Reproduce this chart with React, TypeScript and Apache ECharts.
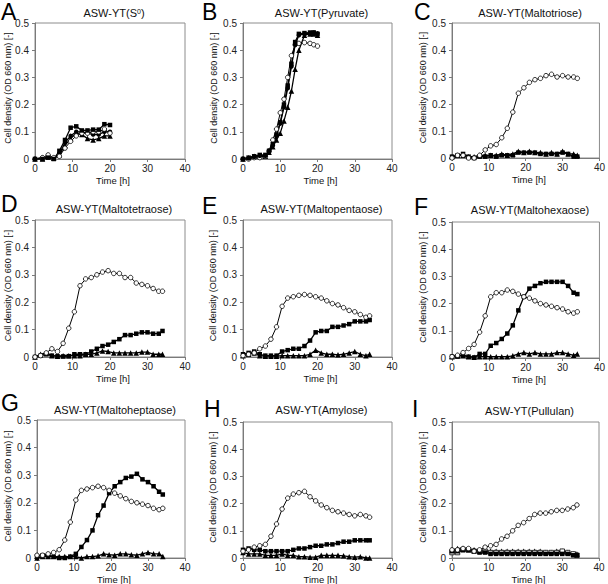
import React, { useEffect, useRef } from "react";
import * as echarts from "echarts";

// ---------- DATA ----------
const TIME_A = [0, 2, 3.5, 5, 6.5, 8, 9.5, 11, 12.5, 14, 15.5, 17, 18.5, 20];
const TIME_B = [0, 1.5, 3, 4.5, 6, 7, 8, 9, 10, 11, 12, 13, 14, 15, 16.5, 18, 19, 20];
const TIME = [0, 1.5, 3, 4.5, 6, 7.5, 9, 10.5, 12, 13.5, 15, 16.5, 18, 19.5, 21, 22.5, 24, 25.5, 27, 28.5, 30, 31.5, 33, 34];

const A_SQ = [0, 0, 0.005, 0, 0.03, 0.07, 0.115, 0.12, 0.105, 0.105, 0.108, 0.108, 0.128, 0.125];
const A_FC = [0, 0.005, 0.008, 0.003, 0.02, 0.06, 0.085, 0.1, 0.1, 0.095, 0.09, 0.09, 0.1, 0.1];
const A_OC = [0, 0.005, 0.015, 0.005, 0.01, 0.04, 0.065, 0.085, 0.095, 0.095, 0.1, 0.1, 0.11, 0.095];
const A_TR = [0, 0, 0.008, 0.003, 0.015, 0.05, 0.075, 0.095, 0.09, 0.075, 0.07, 0.075, 0.085, 0.085];

const B_SQ = [0, 0.005, 0.01, 0.015, 0.015, 0.03, 0.055, 0.09, 0.135, 0.2, 0.27, 0.35, 0.43, 0.46, 0.463, 0.465, 0.465, 0.46];
const B_FC = [0, 0.003, 0.008, 0.012, 0.012, 0.028, 0.05, 0.085, 0.13, 0.19, 0.26, 0.34, 0.42, 0.455, 0.46, 0.462, 0.465, 0.462];
const B_OC = [0, 0, 0.005, 0.005, 0.01, 0.03, 0.07, 0.11, 0.17, 0.22, 0.3, 0.38, 0.42, 0.425, 0.428, 0.425, 0.42, 0.415];
const B_TR = [0, 0.005, 0.01, 0.01, 0.01, 0.025, 0.045, 0.07, 0.095, 0.14, 0.19, 0.25, 0.33, 0.4, 0.455, 0.46, 0.46, 0.455];

const C_OC = [0, 0.01, 0.01, 0, 0, 0.01, 0.03, 0.045, 0.05, 0.075, 0.11, 0.17, 0.24, 0.26, 0.28, 0.29, 0.295, 0.305, 0.31, 0.3, 0.305, 0.3, 0.3, 0.295];
const C_SQ = [0.005, 0.01, 0.015, 0.005, 0, 0.005, 0.005, 0.01, 0.005, 0.01, 0.01, 0.01, 0.02, 0.02, 0.02, 0.02, 0.015, 0.015, 0.015, 0.015, 0.02, 0.015, 0.005, 0.005];
const C_TR = [0.005, 0.01, 0.01, 0.005, 0.005, 0.01, 0.01, 0.01, 0.01, 0.015, 0.01, 0.015, 0.025, 0.02, 0.025, 0.02, 0.02, 0.015, 0.02, 0.015, 0.025, 0.015, 0.015, 0.01];

const D_OC = [0, 0.005, 0.015, 0.03, 0.02, 0.05, 0.105, 0.165, 0.26, 0.285, 0.29, 0.3, 0.31, 0.315, 0.305, 0.305, 0.29, 0.29, 0.27, 0.265, 0.26, 0.25, 0.24, 0.24];
const D_SQ = [0, 0.005, 0.01, 0.005, 0.003, 0.002, 0.003, 0.01, 0.01, 0.01, 0.02, 0.03, 0.04, 0.045, 0.055, 0.065, 0.08, 0.08, 0.085, 0.09, 0.09, 0.085, 0.085, 0.095];
const D_TR = [0, 0.01, 0.015, 0.005, 0.003, 0.005, 0.005, 0.005, 0.005, 0.01, 0.01, 0.015, 0.022, 0.02, 0.015, 0.015, 0.015, 0.015, 0.015, 0.018, 0.018, 0.01, 0.01, 0.01];

const E_OC = [0.005, 0.01, 0.015, 0.03, 0.04, 0.065, 0.11, 0.185, 0.215, 0.22, 0.225, 0.228, 0.225, 0.22, 0.215, 0.205, 0.195, 0.19, 0.18, 0.17, 0.165, 0.155, 0.145, 0.15];
const E_SQ = [0.01, 0.015, 0.02, 0.01, 0.005, 0.005, 0.005, 0.02, 0.025, 0.03, 0.03, 0.04, 0.06, 0.09, 0.095, 0.095, 0.11, 0.11, 0.115, 0.12, 0.13, 0.13, 0.13, 0.135];
const E_TR = [0.005, 0.01, 0.015, 0.005, 0.003, 0.003, 0.003, 0.005, 0.005, 0.005, 0.005, 0.005, 0.01, 0.025, 0.015, 0.01, 0.01, 0.008, 0.01, 0.015, 0.02, 0.01, 0.005, 0.01];

const F_OC = [0.005, 0.01, 0.02, 0.035, 0.05, 0.095, 0.155, 0.225, 0.24, 0.24, 0.25, 0.245, 0.235, 0.225, 0.22, 0.21, 0.2, 0.195, 0.19, 0.185, 0.18, 0.17, 0.165, 0.17];
const F_SQ = [0.005, 0.005, 0.01, 0.005, 0.002, 0.015, 0.015, 0.045, 0.055, 0.07, 0.09, 0.12, 0.175, 0.225, 0.255, 0.265, 0.275, 0.28, 0.28, 0.28, 0.28, 0.265, 0.24, 0.235];
const F_TR = [0.005, 0.01, 0.01, 0.005, 0.003, 0.005, 0.005, 0.005, 0.005, 0.005, 0.005, 0.008, 0.015, 0.02, 0.015, 0.02, 0.015, 0.015, 0.015, 0.02, 0.02, 0.015, 0.01, 0.015];

const G_OC = [0.01, 0.01, 0.015, 0.02, 0.03, 0.065, 0.13, 0.21, 0.245, 0.25, 0.255, 0.26, 0.255, 0.245, 0.235, 0.225, 0.215, 0.205, 0.2, 0.195, 0.19, 0.18, 0.175, 0.18];
const G_SQ = [0.005, 0.01, 0.01, 0.005, 0, 0, 0.005, 0.015, 0.04, 0.065, 0.1, 0.155, 0.19, 0.235, 0.26, 0.275, 0.29, 0.295, 0.305, 0.285, 0.275, 0.26, 0.24, 0.23];
const G_TR = [0, 0.005, 0.005, 0.005, 0.005, 0.005, 0.005, 0.005, 0, 0.005, 0.005, 0.008, 0.015, 0.012, 0.01, 0.015, 0.015, 0.012, 0.01, 0.015, 0.02, 0.015, 0.015, 0.005];

const H_OC = [0.025, 0.03, 0.04, 0.045, 0.05, 0.08, 0.125, 0.18, 0.22, 0.235, 0.24, 0.245, 0.225, 0.21, 0.195, 0.185, 0.175, 0.17, 0.165, 0.16, 0.155, 0.16, 0.155, 0.15];
const H_SQ = [0.03, 0.035, 0.03, 0.03, 0.025, 0.025, 0.025, 0.025, 0.025, 0.03, 0.035, 0.035, 0.04, 0.045, 0.045, 0.05, 0.05, 0.055, 0.06, 0.06, 0.065, 0.065, 0.065, 0.065];
const H_TR = [0.02, 0.015, 0.015, 0.015, 0.01, 0.01, 0.01, 0.015, 0.01, 0.01, 0.005, 0.005, 0.003, 0.003, 0.01, 0.01, 0.01, 0.01, 0.008, 0.005, 0.003, 0.005, 0, 0];

const I_OC = [0.03, 0.03, 0.035, 0.035, 0.025, 0.03, 0.04, 0.045, 0.05, 0.07, 0.08, 0.1, 0.12, 0.13, 0.145, 0.16, 0.165, 0.165, 0.17, 0.175, 0.175, 0.18, 0.185, 0.195];
const I_SQ = [0.025, 0.025, 0.03, 0.03, 0.025, 0.02, 0.02, 0.015, 0.015, 0.015, 0.015, 0.015, 0.015, 0.015, 0.015, 0.015, 0.015, 0.015, 0.015, 0.015, 0.015, 0.015, 0.01, 0.01];
const I_OS = [0.02, 0.02, 0.03, 0.03, 0.025, 0.025, 0.025, 0.02, 0.02, 0.02, 0.02, 0.02, 0.02, 0.02, 0.02, 0.02, 0.02, 0.02, 0.02, 0.02, 0.025, 0.02, 0.015, 0.01];
const I_TR = [0.03, 0.035, 0.035, 0.03, 0.03, 0.025, 0.025, 0.025, 0.025, 0.025, 0.025, 0.025, 0.025, 0.025, 0.025, 0.025, 0.025, 0.02, 0.02, 0.025, 0.025, 0.02, 0.015, 0.015];

const PANEL_LETTERS = ["A", "B", "C", "D", "E", "F", "G", "H", "I"];
const PANEL_TITLES = [
  "ASW-YT(S{s|0})",
  "ASW-YT(Pyruvate)",
  "ASW-YT(Maltotriose)",
  "ASW-YT(Maltotetraose)",
  "ASW-YT(Maltopentaose)",
  "ASW-YT(Maltohexaose)",
  "ASW-YT(Maltoheptaose)",
  "ASW-YT(Amylose)",
  "ASW-YT(Pullulan)",
];
const X_TICKS = [0, 10, 20, 30, 40];
const Y_TICKS = [0, 0.1, 0.2, 0.3, 0.4, 0.5];
const X_NAME = "Time [h]";
const Y_NAME = "Cell density (OD 660 nm) [-]";

type Kind = "oc" | "sq" | "tr" | "fc" | "os";
const PANEL_SERIES: { t: number[]; kinds: [Kind, number[]][] }[] = [
  { t: TIME_A, kinds: [["tr", A_TR], ["fc", A_FC], ["oc", A_OC], ["sq", A_SQ]] },
  { t: TIME_B, kinds: [["tr", B_TR], ["oc", B_OC], ["fc", B_FC], ["sq", B_SQ]] },
  { t: TIME, kinds: [["tr", C_TR], ["sq", C_SQ], ["oc", C_OC]] },
  { t: TIME, kinds: [["tr", D_TR], ["sq", D_SQ], ["oc", D_OC]] },
  { t: TIME, kinds: [["tr", E_TR], ["sq", E_SQ], ["oc", E_OC]] },
  { t: TIME, kinds: [["tr", F_TR], ["sq", F_SQ], ["oc", F_OC]] },
  { t: TIME, kinds: [["tr", G_TR], ["sq", G_SQ], ["oc", G_OC]] },
  { t: TIME, kinds: [["tr", H_TR], ["sq", H_SQ], ["oc", H_OC]] },
  { t: TIME, kinds: [["tr", I_TR], ["os", I_OS], ["sq", I_SQ], ["oc", I_OC]] },
];

// ---------- LAYOUT ----------
const GRIDS = [
  { left: 35, top: 23, width: 150, height: 136 },
  { left: 243, top: 23, width: 149, height: 136 },
  { left: 452, top: 23, width: 148, height: 135 },
  { left: 35, top: 220, width: 150, height: 137 },
  { left: 243, top: 220, width: 149, height: 137 },
  { left: 452, top: 222, width: 148, height: 136 },
  { left: 37, top: 420, width: 148, height: 138 },
  { left: 243, top: 422, width: 149, height: 136 },
  { left: 452, top: 422, width: 147, height: 136 },
];
const LETTER_POS = [
  [1, 12], [202, 12], [414, 12],
  [1, 204], [202, 206], [414, 207],
  [1, 403], [204, 409], [412, 409],
];
const TITLE_Y = [13, 13, 13, 209, 209, 210, 410, 410, 411];
const YNAME_X = [8, 214, 423, 8, 213, 423, 8, 213, 423];

const FONT = "'Liberation Sans', Arial, sans-serif";

function styleFor(kind: Kind) {
  switch (kind) {
    case "oc":
      return { symbol: "circle", symbolSize: 4.5, itemStyle: { color: "#fff", borderColor: "#000", borderWidth: 0.8 } };
    case "fc":
      return { symbol: "circle", symbolSize: 4.5, itemStyle: { color: "#000", borderColor: "#000", borderWidth: 0 } };
    case "sq":
      return { symbol: "rect", symbolSize: 4.5, itemStyle: { color: "#000", borderColor: "#000", borderWidth: 0 } };
    case "os":
      return { symbol: "rect", symbolSize: 4.5, itemStyle: { color: "#fff", borderColor: "#000", borderWidth: 0.8 } };
    case "tr":
    default:
      return { symbol: "triangle", symbolSize: 5.5, itemStyle: { color: "#000", borderColor: "#000", borderWidth: 0 } };
  }
}

function buildOption() {
  const grid: any[] = [];
  const xAxis: any[] = [];
  const yAxis: any[] = [];
  const series: any[] = [];
  const graphic: any[] = [];

  GRIDS.forEach((g, i) => {
    grid.push({ ...g, show: true, borderColor: "#8c8c8c", borderWidth: 1, backgroundColor: "transparent" });
    xAxis.push({
      type: "value",
      gridIndex: i,
      min: X_TICKS[0],
      max: X_TICKS[X_TICKS.length - 1],
      interval: X_TICKS[1] - X_TICKS[0],
      axisLine: { show: true, lineStyle: { color: "#7a7a7a", width: 1 } },
      axisTick: { show: true, length: 3, inside: false, lineStyle: { color: "#7a7a7a" } },
      axisLabel: { fontSize: 10, color: "#222", fontFamily: FONT, margin: 4 },
      splitLine: { show: false },
    });
    yAxis.push({
      type: "value",
      gridIndex: i,
      min: Y_TICKS[0],
      max: Y_TICKS[Y_TICKS.length - 1],
      interval: Y_TICKS[1] - Y_TICKS[0],
      axisLine: { show: true, lineStyle: { color: "#7a7a7a", width: 1 } },
      axisTick: { show: true, length: 3, inside: false, lineStyle: { color: "#7a7a7a" } },
      axisLabel: {
        fontSize: 10,
        color: "#222",
        fontFamily: FONT,
        margin: 6,
        formatter: (v: number) => (v === 0 ? "0" : String(Math.round(v * 10) / 10)),
      },
      splitLine: { show: false },
    });

    const p = PANEL_SERIES[i];
    p.kinds.forEach(([kind, vals]) => {
      series.push({
        type: "line",
        xAxisIndex: i,
        yAxisIndex: i,
        data: vals.map((v, k) => [p.t[k], v]),
        lineStyle: { color: "#000", width: kind === "oc" ? 1 : 1.3 },
        ...styleFor(kind),
        showSymbol: true,
        silent: true,
      });
    });

    graphic.push({
      type: "text",
      x: LETTER_POS[i][0],
      y: LETTER_POS[i][1],
      style: {
        text: PANEL_LETTERS[i],
        fontSize: 23,
        fontWeight: "normal",
        fontFamily: FONT,
        fill: "#000",
        align: "left",
        verticalAlign: "middle",
      },
    });
    graphic.push({
      type: "text",
      x: g.left + g.width / 2 + 4,
      y: TITLE_Y[i],
      style: {
        text: PANEL_TITLES[i],
        fontSize: 11,
        fontWeight: "normal",
        fontFamily: FONT,
        fill: "#111",
        align: "center",
        verticalAlign: "middle",
        rich: { s: { fontSize: 7, fontWeight: "normal", fontFamily: FONT, verticalAlign: "top", fill: "#111" } },
      },
    });
    graphic.push({
      type: "text",
      x: g.left + g.width / 2 + 3,
      y: g.top + g.height + 21,
      style: {
        text: X_NAME,
        fontSize: 9.5,
        fontWeight: "normal",
        fontFamily: FONT,
        fill: "#111",
        align: "center",
        verticalAlign: "middle",
      },
    });
    graphic.push({
      type: "text",
      x: YNAME_X[i],
      y: g.top + g.height / 2 - 3,
      rotation: Math.PI / 2,
      style: {
        text: Y_NAME,
        fontSize: 9,
        fontWeight: "normal",
        fontFamily: FONT,
        fill: "#111",
        align: "center",
        verticalAlign: "middle",
      },
    });
  });

  return {
    animation: false,
    backgroundColor: "#fff",
    grid,
    xAxis,
    yAxis,
    series,
    graphic,
  };
}

export default function App() {
  const ref = useRef<HTMLDivElement>(null);
  useEffect(() => {
    if (!ref.current) return;
    const chart = echarts.init(ref.current, undefined, { renderer: "svg" });
    chart.setOption(buildOption() as any);
    return () => chart.dispose();
  }, []);
  return (
    <div
      ref={ref}
      style={{ position: "fixed", left: 0, top: 0, width: 608, height: 584, background: "#fff" }}
    />
  );
}
